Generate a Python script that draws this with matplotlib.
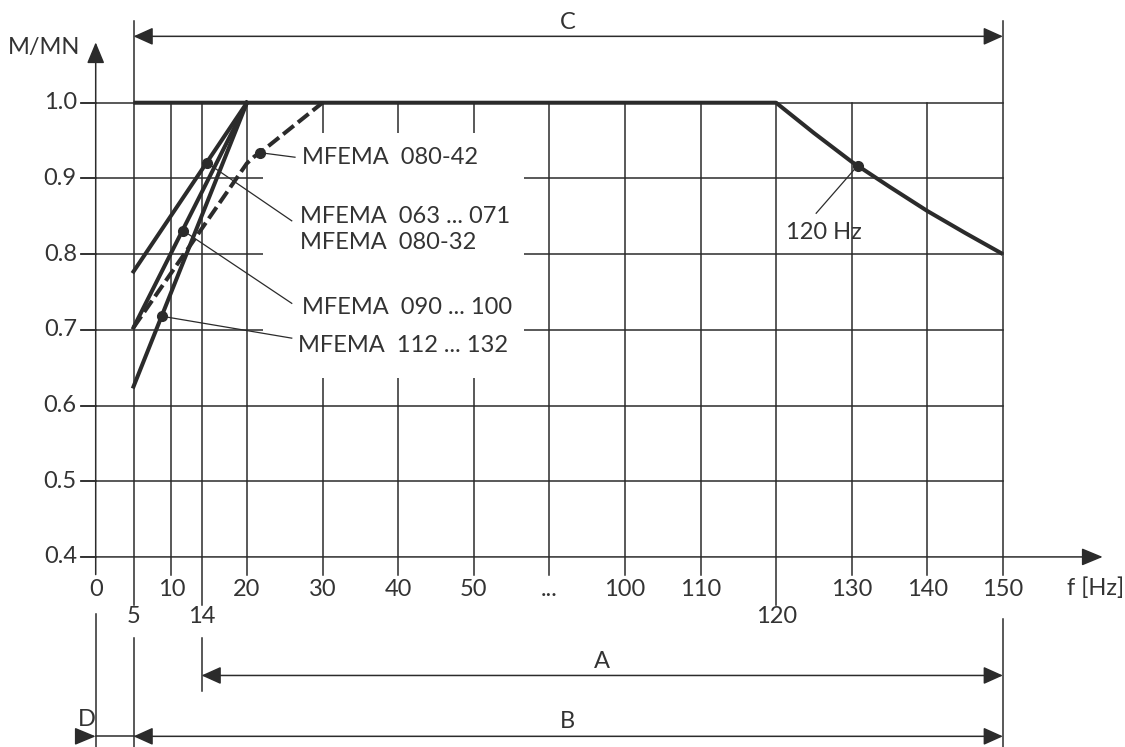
import matplotlib.pyplot as plt
from matplotlib.patches import Rectangle

plt.rcParams['font.family'] = ['Lato', 'DejaVu Sans']

# x axis is broken: 0..50, "...", 100..150 -> evenly spaced positions
tick_freqs = [0, 10, 20, 30, 40, 50, 100, 110, 120, 130, 140, 150]
tick_labels = ['0', '10', '20', '30', '40', '50', '100', '110', '120', '130', '140', '150']
extra_freqs = [5, 14, 120]
y_ticks = [0.4, 0.5, 0.6, 0.7, 0.8, 0.9, 1.0]

# torque curves (f in Hz, M/MN)
main_f = [5, 120, 125, 130, 135, 140, 145, 150]
main_m = [1.0, 1.0, 0.96, 0.922, 0.889, 0.857, 0.828, 0.80]
line_063_f = [5, 20]
line_063_m = [0.777, 1.0]
line_090_f = [5, 20]
line_090_m = [0.703, 1.0]
line_112_f = [5, 20]
line_112_m = [0.625, 1.0]
dash_f = [5, 20, 21, 22, 30]
dash_m = [0.703, 0.92, 0.929, 0.936, 1.0]

# marker dots on the curves
labels = ['MFEMA  080-42', 'MFEMA  063 ... 071\nMFEMA  080-32', 'MFEMA  090 ... 100', 'MFEMA  112 ... 132']
dot_f = [21.75, 14.66, 11.57, 8.72]
dot_m = [0.934, 0.921, 0.831, 0.718]
dot120_f, dot120_m = 130.8, 0.917

ink = '#2b2b2b'
txt = '#333333'
GAP_POS = 6  # position of the "..." column


def pos(f):
    # frequency -> position on the broken axis
    if f <= 50:
        return f / 10.0
    return (f - 100) / 10.0 + 7


def P(fs):
    return [pos(f) for f in fs]


fig = plt.figure(figsize=(11.25, 7.47), dpi=100)
ax = fig.add_axes([0, 0, 1, 1])
ax.set_xlim(-1.266, 13.615)
ax.set_ylim(0.1489, 1.1357)
ax.axis('off')

glw = 1.1
fs = 17

# horizontal grid
for v in y_ticks[1:]:
    ax.plot([-0.19, 12], [v, v], color=ink, lw=glw, zorder=1)
# vertical grid
for f in tick_freqs[1:-1]:
    if f == 120:
        continue
    ax.plot([pos(f)] * 2, [1.0, 0.3767], color=ink, lw=glw, zorder=1)
ax.plot([GAP_POS] * 2, [1.0, 0.3767], color=ink, lw=glw, zorder=1)
ax.plot([pos(120)] * 2, [1.0, 0.337], color=ink, lw=glw, zorder=1)
ax.plot([pos(14)] * 2, [1.0, 0.337], color=ink, lw=glw, zorder=1)
ax.plot([pos(14)] * 2, [0.2935, 0.2223], color=ink, lw=glw, zorder=1)
ax.plot([pos(5)] * 2, [1.1075, 0.337], color=ink, lw=glw, zorder=1)
ax.plot([pos(5)] * 2, [0.2935, 0.1489], color=ink, lw=glw, zorder=1)
ax.plot([pos(150)] * 2, [1.1075, 0.3767], color=ink, lw=glw, zorder=1)
ax.plot([pos(150)] * 2, [0.318, 0.1489], color=ink, lw=glw, zorder=1)
ax.plot([0, 0], [0.325, 0.1489], color=ink, lw=glw, zorder=1)

# white area behind the labels
ax.add_patch(Rectangle((2.214, 0.636), 3.452, 0.324, facecolor='white', edgecolor='none', zorder=2))

# axes with arrows
arr = dict(arrowstyle='-|>,head_length=0.65,head_width=0.27', mutation_scale=20,
           lw=glw, color=ink, shrinkA=0, shrinkB=0)
ax.annotate('', xy=(0, 1.0798), xytext=(0, 0.3767), arrowprops=arr, zorder=3)
ax.annotate('', xy=(13.32, 0.4), xytext=(-0.2, 0.4), arrowprops=arr, zorder=3)

# dimension arrows
dim = dict(arrowstyle='<|-|>,head_length=0.6,head_width=0.27', mutation_scale=20,
           lw=glw, color=ink, shrinkA=0, shrinkB=0)
ax.annotate('', xy=(pos(5), 1.0877), xytext=(pos(150), 1.0877), arrowprops=dim)
ax.annotate('', xy=(pos(14), 0.2434), xytext=(pos(150), 0.2434), arrowprops=dim)
ax.annotate('', xy=(pos(5), 0.163), xytext=(pos(150), 0.163), arrowprops=dim)
ax.annotate('', xy=(0, 0.163), xytext=(-0.2, 0.163), arrowprops=arr)
ax.plot([0, pos(5)], [0.163, 0.163], color=ink, lw=glw)
ax.text(6.25, 1.1066, 'C', fontsize=fs, color=txt, ha='center', va='center')
ax.text(6.70, 0.2615, 'A', fontsize=fs, color=txt, ha='center', va='center')
ax.text(6.24, 0.1823, 'B', fontsize=fs, color=txt, ha='center', va='center')
ax.text(-0.115, 0.185, 'D', fontsize=fs, color=txt, ha='center', va='center')

# ticks and tick labels
for v in y_ticks:
    ax.plot([-0.19, 0], [v, v], color=ink, lw=glw)
    ax.text(-0.25, v, f'{v:.1f}', fontsize=fs, color=txt, ha='right', va='center')
ax.text(-0.21, 1.0736, 'M/MN', fontsize=fs, color=txt, ha='right', va='center')
for f, lab in zip(tick_freqs, tick_labels):
    ax.text(pos(f), 0.3568, lab if f != 120 else '', fontsize=fs, color=txt, ha='center', va='center')
ax.text(GAP_POS, 0.3568, '...', fontsize=fs, color=txt, ha='center', va='center')
for f in extra_freqs:
    ax.text(pos(f), 0.3212, str(f), fontsize=fs, color=txt, ha='center', va='center')
ax.text(12.85, 0.3587, 'f [Hz]', fontsize=fs, color=txt, ha='left', va='center')

# curves
lw = 2.9
ax.plot(P(main_f), main_m, color=ink, lw=lw, solid_capstyle='butt', zorder=4)
ax.plot(P(line_063_f), line_063_m, color=ink, lw=lw, zorder=4)
ax.plot(P(line_090_f), line_090_m, color=ink, lw=lw, zorder=4)
ax.plot(P(line_112_f), line_112_m, color=ink, lw=lw, zorder=4)
ax.plot(P(dash_f), dash_m, color=ink, lw=lw, ls=(0, (3.4, 1.3)), zorder=4)

# dots, leaders, labels
ends = [(2.636, 0.928), (2.593, 0.844), (2.593, 0.735), (2.593, 0.689)]
text_pos = [(2.725, 0.927), (2.70, 0.8325), (2.725, 0.729), (2.676, 0.679)]
for f, m, e, t, lab in zip(dot_f, dot_m, ends, text_pos, labels):
    ax.plot([pos(f), e[0]], [m, e[1]], color=ink, lw=0.9, zorder=5)
    ax.plot(pos(f), m, 'o', color=ink, ms=7, zorder=6)
    ax.text(t[0], t[1], lab, fontsize=fs, color=txt, ha='left', va='center',
            linespacing=1.3, zorder=6)
ax.plot([pos(dot120_f), 9.53], [dot120_m, 0.854], color=ink, lw=0.9, zorder=5)
ax.plot(pos(dot120_f), dot120_m, 'o', color=ink, ms=7, zorder=6)
ax.text(9.63, 0.829, '120 Hz', fontsize=fs, color=txt, ha='center', va='center', zorder=6)

fig.savefig('out.png', dpi=100, facecolor='white')
